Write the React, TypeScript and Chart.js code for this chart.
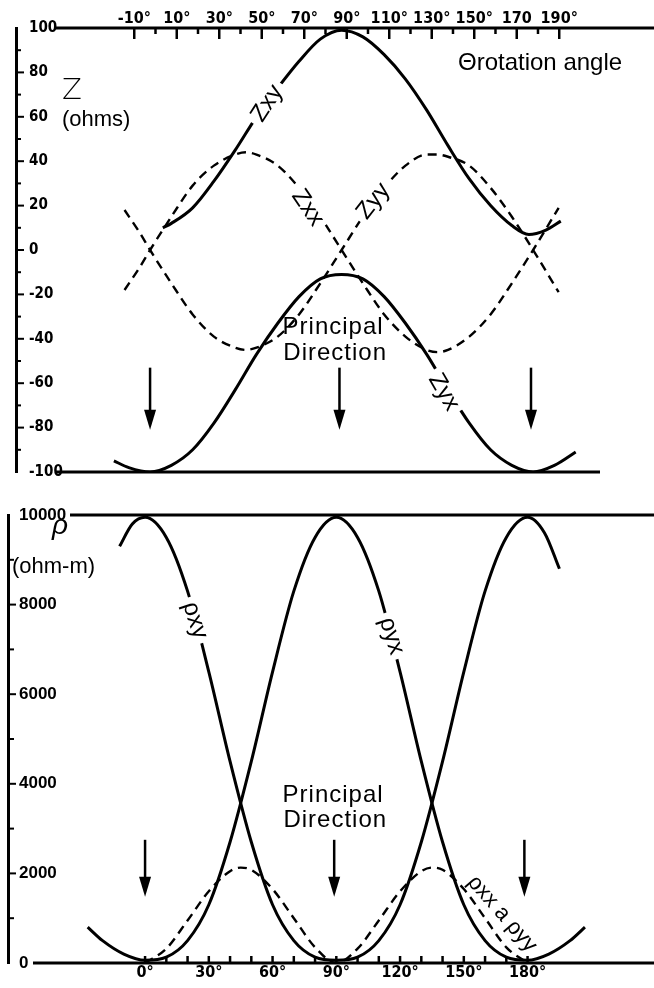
import { useEffect, useRef } from 'react';
import { Chart, registerables } from 'chart.js';

Chart.register(...registerables);

// ---------------- Upper panel: impedance Z (ohms) vs rotation angle ----------------
const zxyAngles = [6, 10, 20, 30, 40, 50, 60, 70, 80, 90, 100, 110, 120, 130, 140, 150, 160, 170, 178, 186, 193];
const zxyValues = [10, 12, 19, 31, 45, 60, 73, 85, 95, 99, 96, 88, 77, 63, 47, 32, 20, 11, 7, 9, 13];

const zDiagAngles = [-12, -5, 0, 10, 20, 30, 40, 45, 50, 60, 70, 80, 90, 100, 110, 120, 130, 135, 140, 150, 160, 170, 180, 192];
const zxxValues = [-18, -8, 0, 15, 29, 38, 43, 44, 43, 38, 28, 15, 0, -15, -29, -39, -45, -46, -45, -39, -29, -15, 0, 19];
const zyyValues = [18, 8, 0, -15, -29, -39, -44, -45, -44, -39, -29, -15, 0, 15, 28, 38, 43, 43, 42, 38, 28, 15, 0, -19];

const zyxAngles = [-17, -10, 0, 10, 20, 30, 40, 50, 60, 70, 80, 90, 100, 110, 120, 130, 140, 150, 160, 170, 180, 190, 200];
const zyxValues = [-95, -98, -100, -97, -90, -78, -63, -47, -33, -21, -13, -11, -13, -21, -33, -47, -63, -78, -90, -97, -100, -97, -91];

const zTicks = [100, 80, 60, 40, 20, 0, -20, -40, -60, -80, -100];
const topTickDegrees = [-10, 10, 30, 50, 70, 90, 110, 130, 150, 170, 190];
const topTickLabels = ['-10°', '10°', '30°', '50°', '70°', '90°', '110°', '130°', '150°', '170', '190°'];
const principalTop = [0, 89, 179];

// ---------------- Lower panel: apparent resistivity (ohm-m) vs rotation angle ----------------
const rhoXyAngles = [-12, -6, 0, 10, 20, 30, 40, 50, 60, 70, 80, 90, 100, 110, 120, 130, 140, 150, 160, 170, 180, 188, 195];
const rhoXyValues = [9300, 9800, 9950, 9500, 8300, 6500, 4500, 2700, 1300, 500, 130, 60, 130, 500, 1300, 2700, 4500, 6500, 8300, 9500, 9950, 9600, 8800];

const rhoYxAngles = [-27, -20, -10, 0, 10, 20, 30, 40, 50, 60, 70, 80, 90, 100, 110, 120, 130, 140, 150, 160, 170, 180, 190, 200, 207];
const rhoYxValues = [800, 500, 200, 60, 130, 500, 1300, 2700, 4500, 6500, 8300, 9500, 9950, 9500, 8300, 6500, 4500, 2700, 1300, 500, 130, 60, 200, 500, 800];

const rhoDiagAngles = [0, 10, 20, 30, 40, 45, 50, 60, 70, 80, 90, 100, 110, 120, 130, 135, 140, 150, 160, 170, 180];
const rhoDiagValues = [0, 320, 950, 1600, 2050, 2130, 2080, 1650, 1000, 350, 0, 320, 950, 1600, 2050, 2130, 2080, 1650, 1000, 350, 0];

const rhoTicks = [10000, 8000, 6000, 4000, 2000, 0];
const bottomTickDegrees = [0, 30, 60, 90, 120, 150, 180];
const bottomTickLabels = ['0°', '30°', '60°', '90°', '120°', '150°', '180°'];
const principalBottom = [0, 89, 178.5];

// ---------------- helpers ----------------
const NARROW = "'Liberation Sans Narrow', 'DejaVu Sans Condensed', 'Liberation Sans', sans-serif";
const SANS = "'Liberation Sans', 'DejaVu Sans', Arial, sans-serif";

type XY = { x: number; y: number };
const toPoints = (xs: number[], ys: number[]): XY[] => xs.map((x, i) => ({ x, y: ys[i] }));

const solid = (label: string, data: XY[]) => ({
  label,
  data,
  borderColor: '#000',
  backgroundColor: '#000',
  borderWidth: 3,
  pointRadius: 0,
  cubicInterpolationMode: 'monotone' as const,
  fill: false,
});
const dashed = (label: string, data: XY[]) => ({ ...solid(label, data), borderWidth: 2.4, borderDash: [9, 6] });

interface Note {
  text: string;
  x: number;
  y: number;
  font: string;
  rot?: number;
  knockout?: boolean;
  spacing?: string;
  align?: CanvasTextAlign;
  pixel?: boolean;
}

function drawNote(ctx: CanvasRenderingContext2D, n: Note, px: number, py: number) {
  ctx.save();
  ctx.translate(px, py);
  if (n.rot) ctx.rotate((n.rot * Math.PI) / 180);
  ctx.font = n.font;
  if (n.spacing) (ctx as any).letterSpacing = n.spacing;
  ctx.textAlign = n.align || 'center';
  ctx.textBaseline = 'middle';
  if (n.knockout) {
    const w = ctx.measureText(n.text).width;
    ctx.fillStyle = '#fff';
    ctx.fillRect(-w / 2 - 5, -12, w + 10, 24);
  }
  ctx.fillStyle = '#000';
  ctx.fillText(n.text, 0, 0);
  ctx.restore();
}

function drawArrow(ctx: CanvasRenderingContext2D, x: number, yFrom: number, yTo: number) {
  ctx.save();
  ctx.lineWidth = 2.5;
  ctx.strokeStyle = '#000';
  ctx.fillStyle = '#000';
  ctx.beginPath();
  ctx.moveTo(x, yFrom);
  ctx.lineTo(x, yTo - 14);
  ctx.stroke();
  ctx.beginPath();
  ctx.moveTo(x - 6, yTo - 20);
  ctx.lineTo(x + 6, yTo - 20);
  ctx.lineTo(x, yTo);
  ctx.closePath();
  ctx.fill();
  ctx.restore();
}

function seg(ctx: CanvasRenderingContext2D, x1: number, y1: number, x2: number, y2: number) {
  ctx.beginPath();
  ctx.moveTo(x1, y1);
  ctx.lineTo(x2, y2);
  ctx.stroke();
}

const topNotes: Note[] = [
  { text: 'Zxy', x: 55, y: 66, rot: -57, font: `24px ${SANS}`, knockout: true },
  { text: 'Zxx', x: 74, y: 19, rot: 56, font: `24px ${SANS}`, knockout: true },
  { text: 'Zyy', x: 105, y: 22, rot: -52, font: `24px ${SANS}`, knockout: true },
  { text: 'Zyx', x: 138, y: -64, rot: 60, font: `24px ${SANS}`, knockout: true },
  { text: 'Principal', x: 86, y: -35, font: `24px ${SANS}`, spacing: '1px' },
  { text: 'Direction', x: 87, y: -46.5, font: `24px ${SANS}`, spacing: '1px' },
  { text: 'Z', x: 72, y: 91, font: `200 29px 'DejaVu Sans', ${SANS}`, pixel: true },
  { text: '(ohms)', x: 62, y: 120, font: `22px ${SANS}`, align: 'left', pixel: true },
  { text: 'Θrotation angle', x: 458, y: 63, font: `24px ${SANS}`, align: 'left', pixel: true },
];

const bottomNotes: Note[] = [
  { text: 'ρxy', x: 23.5, y: 7650, rot: 72, font: `24px ${SANS}`, knockout: true },
  { text: 'ρyx', x: 116, y: 7300, rot: 72, font: `24px ${SANS}`, knockout: true },
  { text: 'ρxx a ρyy', x: 168, y: 1100, rot: 49, font: `22px ${SANS}` },
  { text: 'Principal', x: 88.5, y: 3750, font: `24px ${SANS}`, spacing: '1px' },
  { text: 'Direction', x: 89.5, y: 3190, font: `24px ${SANS}`, spacing: '1px' },
  { text: 'ρ', x: 60, y: 36, font: `italic 28px ${SANS}`, pixel: true },
  { text: '(ohm-m)', x: 12, y: 77, font: `22px ${SANS}`, align: 'left', pixel: true },
];

const topDeco = {
  id: 'topDeco',
  afterDraw(chart: any) {
    const { ctx, chartArea } = chart;
    const xs = chart.scales.x;
    const ys = chart.scales.y;
    const xt = chart.scales.x2;
    ctx.save();
    ctx.strokeStyle = '#000';
    ctx.fillStyle = '#000';
    const yTop = ys.getPixelForValue(zTicks[0]);
    const yBot = ys.getPixelForValue(zTicks[zTicks.length - 1]);
    ctx.lineWidth = 3;
    seg(ctx, 55, yTop, chart.width, yTop);
    seg(ctx, 55, yBot, 600, yBot);
    // angle ticks hanging from the top line
    ctx.lineWidth = 2.5;
    const first = topTickDegrees[0];
    const last = topTickDegrees[topTickDegrees.length - 1];
    for (let v = first; v <= last; v += 10) {
      const major = topTickDegrees.includes(v);
      const x = xt.getPixelForValue(v);
      seg(ctx, x, yTop, x, yTop + (major ? 11 : 6));
    }
    // y-axis ticks
    ctx.lineWidth = 2;
    for (let v = -90; v <= 90; v += 10) {
      const y = ys.getPixelForValue(v);
      const major = zTicks.includes(v);
      seg(ctx, chartArea.left, y, chartArea.left + (major ? 8 : 5), y);
    }
    for (const a of principalTop) {
      drawArrow(ctx, xs.getPixelForValue(a), ys.getPixelForValue(-53), ys.getPixelForValue(-81));
    }
    for (const n of topNotes) {
      const px = n.pixel ? n.x : xs.getPixelForValue(n.x);
      const py = n.pixel ? n.y : ys.getPixelForValue(n.y);
      drawNote(ctx, n, px, py);
    }
    ctx.restore();
  },
};

const bottomDeco = {
  id: 'bottomDeco',
  afterDraw(chart: any) {
    const { ctx, chartArea } = chart;
    const xs = chart.scales.x;
    const ys = chart.scales.y;
    ctx.save();
    ctx.strokeStyle = '#000';
    ctx.fillStyle = '#000';
    const yTop = ys.getPixelForValue(rhoTicks[0]);
    const yBot = ys.getPixelForValue(rhoTicks[rhoTicks.length - 1]);
    ctx.lineWidth = 3;
    seg(ctx, 70, yTop, chart.width, yTop);
    seg(ctx, 33, yBot, chart.width, yBot);
    ctx.lineWidth = 2.5;
    const first = bottomTickDegrees[0];
    const last = bottomTickDegrees[bottomTickDegrees.length - 1];
    for (let v = first; v <= last; v += 10) {
      const x = xs.getPixelForValue(v);
      seg(ctx, x, yBot, x, yBot - 7);
    }
    ctx.lineWidth = 2;
    for (let v = 1000; v <= 9000; v += 1000) {
      const y = ys.getPixelForValue(v);
      const major = rhoTicks.includes(v);
      seg(ctx, chartArea.left, y, chartArea.left + (major ? 8 : 6), y);
    }
    for (const a of principalBottom) {
      drawArrow(ctx, xs.getPixelForValue(a), ys.getPixelForValue(2750), ys.getPixelForValue(1480));
    }
    for (const n of bottomNotes) {
      const px = n.pixel ? n.x : xs.getPixelForValue(n.x);
      const py = n.pixel ? n.y : ys.getPixelForValue(n.y);
      drawNote(ctx, n, px, py);
    }
    ctx.restore();
  },
};

export default function App() {
  const topRef = useRef<HTMLCanvasElement>(null);
  const botRef = useRef<HTMLCanvasElement>(null);

  useEffect(() => {
    if (!topRef.current || !botRef.current) return;

    const top = new Chart(topRef.current, {
      type: 'line',
      data: {
        datasets: [
          solid('Zxy', toPoints(zxyAngles, zxyValues)),
          dashed('Zxx', toPoints(zDiagAngles, zxxValues)),
          dashed('Zyy', toPoints(zDiagAngles, zyyValues)),
          solid('Zyx', toPoints(zyxAngles, zyxValues)),
        ] as any,
      },
      options: {
        animation: false,
        responsive: false,
        devicePixelRatio: 1,
        events: [],
        layout: { padding: { left: 16, right: 0, top: 9, bottom: 18 } },
        plugins: { legend: { display: false }, tooltip: { enabled: false } },
        scales: {
          x: { type: 'linear', display: false, min: -63, max: 236.8 },
          x2: {
            type: 'linear',
            position: 'top',
            min: -65.65,
            max: 234.6,
            grid: { display: false, drawTicks: false },
            border: { display: false },
            afterBuildTicks: (s: any) => {
              s.ticks = topTickDegrees.map((v) => ({ value: v }));
            },
            afterFit: (s: any) => {
              s.height = 19;
              s.paddingLeft = 0;
              s.paddingRight = 0;
            },
            ticks: {
              autoSkip: false,
              maxRotation: 0,
              padding: 0,
              color: '#000',
              font: { family: NARROW, size: 16, weight: 'bold' },
              callback: (v: any) => topTickLabels[topTickDegrees.indexOf(Number(v))] ?? '',
            },
          },
          y: {
            type: 'linear',
            position: 'left',
            min: -100,
            max: 100,
            grid: { display: true, drawOnChartArea: false, drawTicks: false },
            border: { display: true, color: '#000', width: 3 },
            afterBuildTicks: (s: any) => {
              s.ticks = zTicks.map((v) => ({ value: v }));
            },
            afterFit: (s: any) => {
              s.width = 0;
              s.paddingTop = 0;
              s.paddingBottom = 0;
            },
            ticks: {
              mirror: true,
              padding: 13,
              color: '#000',
              font: { family: NARROW, size: 15, weight: 'bold' },
              callback: (v: any) => String(v),
            },
          },
        } as any,
      },
      plugins: [topDeco],
    });

    const bottom = new Chart(botRef.current, {
      type: 'line',
      data: {
        datasets: [
          solid('ρxy', toPoints(rhoXyAngles, rhoXyValues)),
          solid('ρyx', toPoints(rhoYxAngles, rhoYxValues)),
          dashed('ρxx a ρyy', toPoints(rhoDiagAngles, rhoDiagValues)),
        ] as any,
      },
      options: {
        animation: false,
        responsive: false,
        devicePixelRatio: 1,
        events: [],
        layout: { padding: { left: 8, right: 0, top: 25, bottom: 5 } },
        plugins: { legend: { display: false }, tooltip: { enabled: false } },
        scales: {
          x: {
            type: 'linear',
            position: 'bottom',
            min: -64.5,
            max: 239.5,
            grid: { display: false, drawTicks: false },
            border: { display: false },
            afterBuildTicks: (s: any) => {
              s.ticks = bottomTickDegrees.map((v) => ({ value: v }));
            },
            afterFit: (s: any) => {
              s.height = 20;
              s.paddingLeft = 0;
              s.paddingRight = 0;
            },
            ticks: {
              autoSkip: false,
              maxRotation: 0,
              padding: 0,
              color: '#000',
              font: { family: NARROW, size: 16, weight: 'bold' },
              callback: (v: any) => bottomTickLabels[bottomTickDegrees.indexOf(Number(v))] ?? '',
            },
          },
          y: {
            type: 'linear',
            position: 'left',
            min: 0,
            max: 10000,
            grid: { display: true, drawOnChartArea: false, drawTicks: false },
            border: { display: true, color: '#000', width: 3 },
            afterBuildTicks: (s: any) => {
              s.ticks = rhoTicks.map((v) => ({ value: v }));
            },
            afterFit: (s: any) => {
              s.width = 0;
              s.paddingTop = 0;
              s.paddingBottom = 0;
            },
            ticks: {
              mirror: true,
              padding: 11,
              color: '#000',
              font: { family: SANS, size: 17, weight: 'bold' },
              callback: (v: any) => String(v),
            },
          },
        } as any,
      },
      plugins: [bottomDeco],
    });

    return () => {
      top.destroy();
      bottom.destroy();
    };
  }, []);

  return (
    <div style={{ position: 'absolute', left: 0, top: 0, width: 654, height: 988, background: '#fff', overflow: 'hidden' }}>
      <canvas ref={topRef} width={654} height={490} style={{ position: 'absolute', left: 0, top: 0, width: 654, height: 490 }} />
      <canvas ref={botRef} width={654} height={498} style={{ position: 'absolute', left: 0, top: 490, width: 654, height: 498 }} />
    </div>
  );
}
